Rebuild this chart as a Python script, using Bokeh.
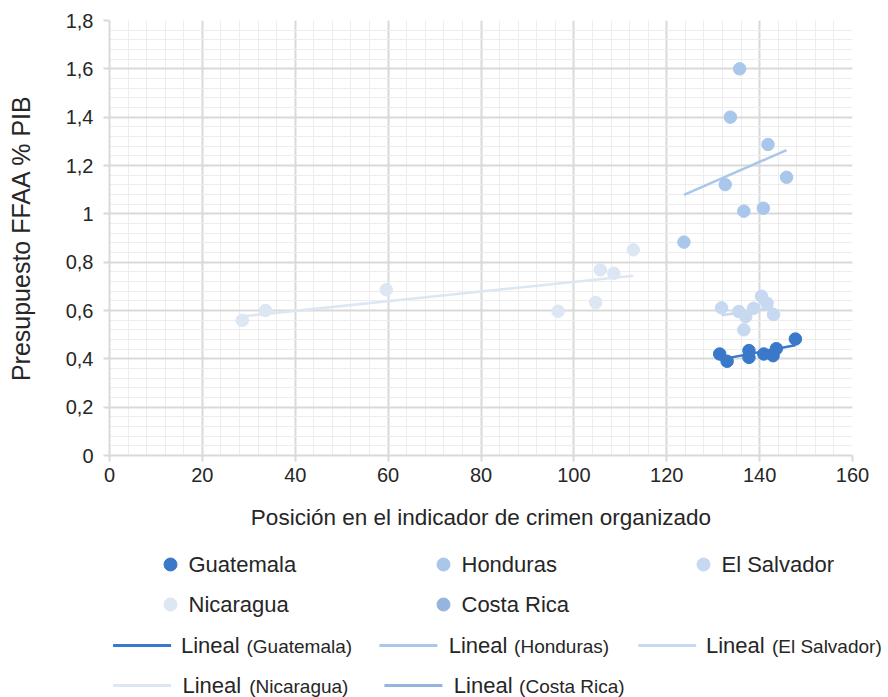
import numpy as np
from bokeh.plotting import figure
from bokeh.models import Range1d, FixedTicker, ColumnDataSource, LabelSet
from bokeh.layouts import column, row
from bokeh.embed import file_html
from bokeh.resources import INLINE
from bokeh.core.properties import value

FONT = "Liberation Sans"
TXT = "#262626"

# ---------------- data ----------------
series_names = ["Guatemala", "Honduras", "El Salvador", "Nicaragua", "Costa Rica"]
series_colors = ["#3A78C9", "#A9C7EA", "#C6D9F1", "#DDE7F3", "#95B5DE"]

guatemala_x = [131.4, 133.0, 137.7, 137.7, 140.9, 142.9, 143.6, 147.7]
guatemala_y = [0.420, 0.390, 0.434, 0.406, 0.420, 0.413, 0.442, 0.482]
honduras_x = [123.7, 132.6, 133.7, 135.7, 136.6, 140.8, 141.8, 145.8]
honduras_y = [0.883, 1.121, 1.400, 1.600, 1.011, 1.023, 1.287, 1.151]
el_salvador_x = [131.8, 135.5, 136.6, 137.0, 138.7, 140.4, 141.6, 143.0]
el_salvador_y = [0.611, 0.596, 0.520, 0.575, 0.609, 0.659, 0.630, 0.583]
nicaragua_x = [28.6, 33.6, 59.6, 96.6, 104.7, 105.7, 108.6, 112.8]
nicaragua_y = [0.559, 0.600, 0.686, 0.597, 0.633, 0.768, 0.754, 0.851]
costa_rica_x = []
costa_rica_y = []

series_x = [guatemala_x, honduras_x, el_salvador_x, nicaragua_x, costa_rica_x]
series_y = [guatemala_y, honduras_y, el_salvador_y, nicaragua_y, costa_rica_y]

x_ticks = [0, 20, 40, 60, 80, 100, 120, 140, 160]
y_ticks = [0, 0.2, 0.4, 0.6, 0.8, 1.0, 1.2, 1.4, 1.6, 1.8]
y_tick_labels = ["0", "0,2", "0,4", "0,6", "0,8", "1", "1,2", "1,4", "1,6", "1,8"]

x_title = "Posición en el indicador de crimen organizado"
y_title = "Presupuesto FFAA % PIB"
trend_word = "Lineal"

# ---------------- layout constants ----------------
W = 888
H1 = 532
H2 = 165
BL, BR, BT = 109, 36, 20
FRAME_H = 435

# ---------------- main chart ----------------
p = figure(width=W, height=H1, x_range=Range1d(0, 160), y_range=Range1d(0, 1.8),
           output_backend="svg", toolbar_location=None,
           min_border_left=BL, min_border_right=BR, min_border_top=BT,
           min_border_bottom=H1 - BT - FRAME_H)
p.outline_line_color = None
p.background_fill_color = "white"

x_minor = list(range(0, 161, 4))
y_minor = [round(i * 0.04, 2) for i in range(46)]
p.xaxis.ticker = FixedTicker(ticks=x_ticks, minor_ticks=x_minor)
p.yaxis.ticker = FixedTicker(ticks=y_ticks, minor_ticks=y_minor)
p.yaxis.major_label_overrides = {t: l for t, l in zip(y_ticks, y_tick_labels)}

for g in (p.xgrid, p.ygrid):
    g.grid_line_color = "#D9D9D9"
    g.grid_line_width = 2
    g.minor_grid_line_color = "#EDEDED"
    g.minor_grid_line_width = 1

for ax in (p.xaxis, p.yaxis):
    ax.axis_line_color = "#D9D9D9"
    ax.axis_line_width = 2
    ax.major_tick_line_color = "#D9D9D9"
    ax.major_tick_line_width = 2
    ax.major_tick_out = 6
    ax.major_tick_in = 0
    ax.minor_tick_out = 0
    ax.minor_tick_in = 0
    ax.major_label_text_font = FONT
    ax.major_label_text_font_size = "20px"
    ax.major_label_text_color = TXT
    ax.axis_label_text_font = FONT
    ax.axis_label_text_font_style = "normal"
    ax.axis_label_text_color = TXT

p.xaxis.axis_label = x_title
p.xaxis.axis_label_text_font_size = "22.5px"
p.xaxis.major_label_standoff = 6
p.xaxis.axis_label_standoff = 20
p.yaxis.axis_label = y_title
p.yaxis.axis_label_text_font_size = "25px"
p.yaxis.major_label_standoff = 10
p.yaxis.axis_label_standoff = 28

# trend lines (least squares from each series)
for xs, ys, c in zip(series_x, series_y, series_colors):
    if len(xs) < 2:
        continue
    k, b = np.polyfit(xs, ys, 1)
    x0, x1 = min(xs), max(xs)
    p.line([x0, x1], [k * x0 + b, k * x1 + b], line_color=c, line_width=2.5)

for xs, ys, c in zip(series_x, series_y, series_colors):
    if len(xs) == 0:
        continue
    p.scatter(xs, ys, size=12.5, marker="circle", fill_color=c, line_color=c)

# ---------------- legend panel (coordinates = page pixels) ----------------
lg = figure(width=W, height=H2, x_range=Range1d(0, W), y_range=Range1d(H1 + H2, H1),
            output_backend="svg", toolbar_location=None, min_border=0,
            x_axis_location=None, y_axis_location=None)
lg.grid.visible = False
lg.outline_line_color = None

mk_x = [170, 443, 703, 170, 443]
mk_y = [564, 564, 564, 604, 604]
ln_x0 = [112.6, 378.9, 637.7, 112.6, 383.9]
ln_len = 58
lineal_x = [180.4, 448.2, 705.5, 181.9, 453.3]
paren_x = [246, 513.6, 771.4, 248.7, 518.6]
ln_y = [645, 645, 645, 685, 685]

lg.scatter(mk_x, mk_y, size=13, marker="circle",
           fill_color=series_colors, line_color=series_colors)
lg.segment(ln_x0, ln_y, [x + ln_len for x in ln_x0], ln_y,
           line_color=series_colors, line_width=3)

name_src = ColumnDataSource(dict(x=[x + 18 for x in mk_x], y=mk_y, t=series_names))
lineal_src = ColumnDataSource(dict(x=lineal_x, y=ln_y, t=[trend_word] * 5))
paren_src = ColumnDataSource(dict(x=paren_x, y=[y + 1 for y in ln_y],
                                  t=["(" + n + ")" for n in series_names]))

lg.add_layout(LabelSet(x="x", y="y", text="t", source=name_src, text_font=value(FONT),
                       text_font_size="22px", text_color=TXT,
                       text_baseline="middle", text_align="left"))
lg.add_layout(LabelSet(x="x", y="y", text="t", source=lineal_src, text_font=value(FONT),
                       text_font_size="22px", text_color=TXT,
                       text_baseline="middle", text_align="left"))
lg.add_layout(LabelSet(x="x", y="y", text="t", source=paren_src, text_font=value(FONT),
                       text_font_size="19px", text_color=TXT,
                       text_baseline="middle", text_align="left"))

layout = column(p, row(lg, spacing=0), spacing=0)
open("out.html", "w").write(file_html(layout, INLINE))
